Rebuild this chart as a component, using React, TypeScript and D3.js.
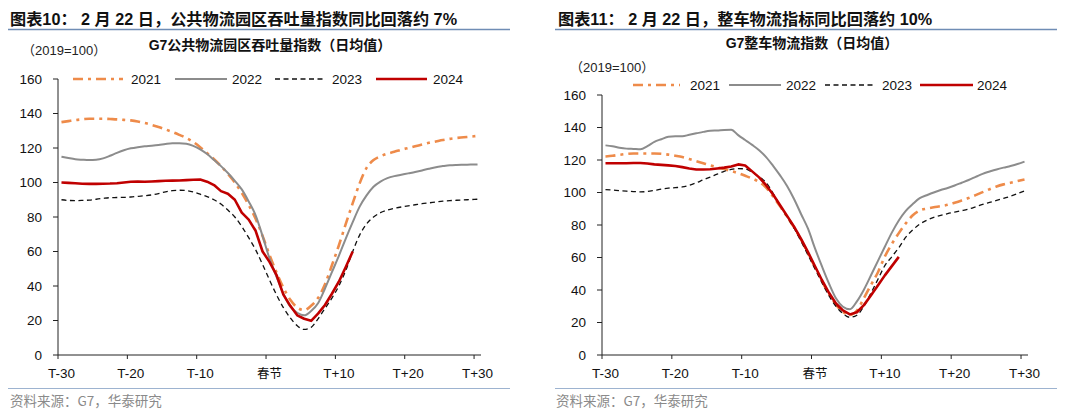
import React from "react";
import * as d3 from "d3";

const DAYS = d3.range(-30, 31);
const TICK_DAYS = [-30, -20, -10, 0, 10, 20, 30];
const TICK_LABELS = ["T-30", "T-20", "T-10", "春节", "T+10", "T+20", "T+30"];
const Y_TICKS = [0, 20, 40, 60, 80, 100, 120, 140, 160];
const SERIES_NAMES = ["2021", "2022", "2023", "2024"];

// Left: G7 public logistics park throughput index (days T-30..T+30)
const L2021 = [
  135, 135.6, 136.2, 136.6, 137, 137, 137, 136.8, 136.6, 136.3,
  136, 135.4, 134.5, 133.4, 132.2, 130.8, 129.3, 127.6, 125.8, 123.5,
  120.5, 117, 113.5, 109.5, 105, 100, 94, 87, 79, 69,
  58, 48, 39, 32, 27.5, 26, 28.5, 33, 41, 52,
  63.5, 76, 88, 99.5, 108.5, 113, 115.2, 116.7, 117.8, 119,
  120, 121, 122, 123, 123.8, 124.6, 125.3, 125.8, 126.2, 126.6, 127,
];
const L2022 = [
  115, 114.2, 113.5, 113.2, 113, 113.2, 114, 115.5, 117.2, 118.7,
  119.8, 120.5, 121, 121.3, 121.7, 122.3, 122.7, 122.7, 122.4, 121.2,
  119.2, 116.5, 113, 109.5, 105.5, 101, 96, 89, 81, 69,
  56, 45.5, 35.5, 28, 24.5, 23, 25.5, 30, 38.5, 48,
  57.5, 67.5, 77, 86, 92.5, 97.5, 100.5, 102.5, 103.7, 104.5,
  105.3, 106.1, 107, 108, 108.9, 109.5, 110, 110.2, 110.3, 110.4, 110.5,
];
const L2023 = [
  90, 89.6, 89.5, 89.6, 89.8, 90.3, 90.8, 91.2, 91.3, 91.4,
  91.6, 92, 92.3, 92.8, 93.6, 94.6, 95.3, 95.5, 95.3, 94.5,
  93.2, 91.8, 90, 87.5, 84, 80, 74.5, 68, 61, 52.5,
  43.5, 35, 27.5, 21.5, 17, 14.8, 16, 21, 27, 33,
  40, 49, 60, 69.5, 76, 80, 82.5, 84, 85, 85.8,
  86.5, 87.1, 87.7, 88.2, 88.7, 89.2, 89.5, 89.7, 89.9, 90.1, 90.3,
];
const L2024 = [
  100, 99.8, 99.6, 99.3, 99.2, 99.2, 99.3, 99.4, 99.6, 100,
  100.4, 100.5, 100.4, 100.6, 100.8, 101, 101.1, 101.2, 101.4, 101.6,
  101.7, 100.5, 98.5, 95, 93.5, 90, 82.5, 78.5, 72, 60,
  54, 46.5, 35, 28.5, 23, 21, 19.8, 24, 29, 35.5,
  42.5, 51, 60,
];

// Right: G7 full-truckload logistics index
const R2021 = [
  122.1, 122.6, 123.2, 123.7, 124, 124, 124, 124, 123.8, 123.3,
  122.6, 121.8, 120.6, 119.3, 118, 116.7, 115.5, 114.4, 113.2, 111.9,
  110.3, 108.6, 106.5, 103, 97.5, 91.5, 85, 78.5, 71, 62.5,
  54, 45.5, 37.5, 31, 26.5, 24.6, 27.4, 35, 43, 50.8,
  60.6, 68.3, 75, 81, 86, 89, 90.1, 90.9, 91.6, 92.4,
  93.7, 95.1, 96.6, 98.4, 100.2, 102, 103.7, 105, 106, 107, 108,
];
const R2022 = [
  129, 128.5, 127.6, 127, 126.8, 126.6, 128.5, 131.2, 132.8, 134.3,
  134.6, 134.6, 135.5, 136.4, 137.3, 138, 138.2, 138.5, 138.6, 135.3,
  132.3, 129.3, 126, 121.8, 116.4, 110.5, 104, 96, 86.8, 77.7,
  65.6, 54.5, 44, 34.9, 29.7, 28.1, 33, 40.2, 48.9, 57.8,
  66.6, 75.3, 82.8, 88.7, 92.9, 96.5, 98.3, 100, 101.5, 102.8,
  104.3, 106, 107.7, 109.6, 111.5, 112.9, 114.2, 115.3, 116.3, 117.5, 119,
];
const R2023 = [
  101.8, 101.5, 101.1, 100.8, 100.6, 100.4, 100.6, 101.3, 102.1, 102.7,
  103, 103.4, 104.5, 106, 107.8, 109.5, 111.3, 113, 114.2, 114.7,
  114.5, 112.5, 109.6, 106.1, 99.5, 92, 85, 78, 70, 61.5,
  53, 44.5, 36.5, 30, 25.5, 23.2, 24.5, 30, 38, 46.5,
  55, 60.5, 66, 72.5, 77, 80.5, 82.9, 84.7, 85.9, 87,
  87.9, 88.8, 89.8, 91.2, 92.7, 93.9, 95.1, 96.4, 97.7, 99.3, 101,
];
const R2024 = [
  118, 118, 118, 118, 118.2, 118.2, 117.8, 117.3, 117, 116.7,
  116.3, 115.6, 114.8, 114.2, 114.2, 114.3, 114.8, 115.3, 116, 117.3,
  116.6, 113, 109.3, 104.5, 98.8, 92.2, 85.6, 79, 71.4, 63.3,
  54.6, 46, 38.3, 31.7, 27.4, 25, 26.3, 30.7, 36.6, 42.7,
  49, 54.7, 60.4,
];

const FONT = "'Liberation Sans', Arial, 'Noto Sans CJK SC', sans-serif";
const CJK = "'Noto Sans CJK SC', sans-serif";

const STYLES = [
  { stroke: "#EE8B4A", width: 2.6, dash: "10,5,3,5", curve: d3.curveMonotoneX },
  { stroke: "#8C8C8C", width: 2, dash: undefined, curve: d3.curveMonotoneX },
  { stroke: "#111111", width: 1.3, dash: "5,3.5", curve: d3.curveMonotoneX },
  { stroke: "#C00000", width: 2.6, dash: undefined, curve: d3.curveLinear },
];

type Cfg = {
  title: string;
  subtitle: string;
  titleX: number;
  ruleX0: number;
  ruleX1: number;
  subX: number;
  subY: number;
  unitX: number;
  unitY: number;
  x0: number;
  x1: number;
  yTop: number;
  yBottom: number;
  legendY: number;
  legend: [number, number, number][];
  sourceX: number;
  series: number[][];
};

function Panel({ cfg }: { cfg: Cfg }) {
  const x = d3.scaleLinear().domain([-30, 31]).range([cfg.x0, cfg.x1]);
  const y = d3.scaleLinear().domain([0, 160]).range([cfg.yBottom, cfg.yTop]);
  const cx = (d: number) => x(d + 0.5);

  return (
    <g>
      <text x={cfg.titleX} y={25} fontFamily={FONT} fontSize={16.2} fontWeight="bold" fill="#111">
        {cfg.title}
      </text>
      <line x1={cfg.ruleX0} x2={cfg.ruleX1} y1={29.5} y2={29.5} stroke="#6F8DB5" strokeWidth={1.3} />
      <text x={cfg.subX} y={cfg.subY} textAnchor="middle" fontFamily={FONT} fontSize={14} fontWeight="bold" fill="#111">
        {cfg.subtitle}
      </text>
      <text x={cfg.unitX} y={cfg.unitY} fontFamily={FONT} fontSize={13} fill="#222">
        （2019=100）
      </text>

      {/* legend */}
      {SERIES_NAMES.map((name, i) => {
        const [a, b, t] = cfg.legend[i];
        const s = STYLES[i];
        return (
          <g key={name}>
            <line x1={a} x2={b} y1={cfg.legendY} y2={cfg.legendY} stroke={s.stroke} strokeWidth={s.width} strokeDasharray={s.dash} />
            <text x={t} y={cfg.legendY + 4.8} fontFamily={FONT} fontSize={13.5} fill="#111">
              {name}
            </text>
          </g>
        );
      })}

      {/* y axis */}
      <line x1={cfg.x0} x2={cfg.x0} y1={y(160)} y2={y(0)} stroke="#222" strokeWidth={1} />
      {Y_TICKS.map((v) => (
        <g key={v}>
          <line x1={cfg.x0 - 5} x2={cfg.x0} y1={y(v)} y2={y(v)} stroke="#222" strokeWidth={1} />
          <text x={cfg.x0 - 16} y={y(v) + 4.8} textAnchor="end" fontFamily={FONT} fontSize={13.5} fill="#111">
            {v}
          </text>
        </g>
      ))}

      {/* x axis */}
      <line x1={cfg.x0} x2={cfg.x1} y1={y(0)} y2={y(0)} stroke="#222" strokeWidth={1} />
      {TICK_DAYS.map((d, i) => (
        <g key={d}>
          <line x1={x(d)} x2={x(d)} y1={y(0)} y2={y(0) + 4} stroke="#222" strokeWidth={1} />
          <text
            x={cx(d)}
            y={y(0) + 23}
            textAnchor="middle"
            fontFamily={d === 0 ? CJK : FONT}
            fontSize={d === 0 ? 12.5 : 13.5}
            fill="#111"
          >
            {TICK_LABELS[i]}
          </text>
        </g>
      ))}

      {/* series */}
      {cfg.series.map((vals, i) => {
        const s = STYLES[i];
        const pts = vals.map((v, k) => [cx(DAYS[k]), y(v)] as [number, number]);
        const path = d3.line().curve(s.curve)(pts) || "";
        return (
          <path
            key={i}
            d={path}
            fill="none"
            stroke={s.stroke}
            strokeWidth={s.width}
            strokeDasharray={s.dash}
            strokeLinejoin="round"
          />
        );
      })}

      <line x1={cfg.ruleX0} x2={cfg.ruleX1} y1={388.5} y2={388.5} stroke="#9DB3D0" strokeWidth={1.2} />
      <text x={cfg.sourceX} y={406} fontFamily={CJK} fontSize={13.5} fill="#8A8A8A">
        资料来源：G7，华泰研究
      </text>
    </g>
  );
}

const LEFT: Cfg = {
  title: "图表10：  2 月 22 日，公共物流园区吞吐量指数同比回落约 7%",
  subtitle: "G7公共物流园区吞吐量指数（日均值）",
  titleX: 10,
  ruleX0: 8,
  ruleX1: 510,
  subX: 270,
  subY: 50,
  unitX: 22,
  unitY: 55,
  x0: 58,
  x1: 481,
  yTop: 79,
  yBottom: 355,
  legendY: 79,
  legend: [
    [73, 123, 131],
    [175, 227, 232],
    [275, 323, 332],
    [376, 427, 433],
  ],
  sourceX: 10,
  series: [L2021, L2022, L2023, L2024],
};

const RIGHT: Cfg = {
  title: "图表11：  2 月 22 日，整车物流指标同比回落约 10%",
  subtitle: "G7整车物流指数（日均值）",
  titleX: 558,
  ruleX0: 555,
  ruleX1: 1057,
  subX: 812,
  subY: 48,
  unitX: 570,
  unitY: 72,
  x0: 602,
  x1: 1028,
  yTop: 95,
  yBottom: 355,
  legendY: 85,
  legend: [
    [633, 680, 690],
    [729, 781, 786],
    [825, 873, 882],
    [920, 973, 977],
  ],
  sourceX: 556,
  series: [R2021, R2022, R2023, R2024],
};

export default function App() {
  return (
    <svg
      width={1080}
      height={414}
      viewBox="0 0 1080 414"
      style={{ position: "fixed", left: 0, top: 0, background: "#fff" }}
    >
      <rect width={1080} height={414} fill="#fff" />
      <Panel cfg={LEFT} />
      <Panel cfg={RIGHT} />
    </svg>
  );
}
